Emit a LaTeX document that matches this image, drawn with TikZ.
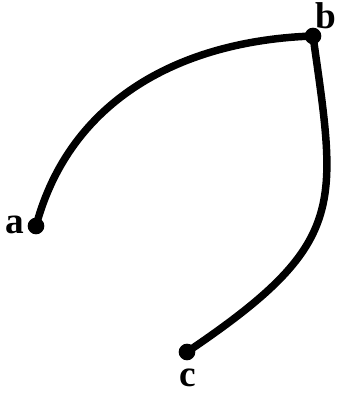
\documentclass[tikz,border=0pt]{standalone}
\usepackage{fontspec}
\setmainfont{Liberation Serif}
\begin{document}
\begin{tikzpicture}[x=0.75pt,y=0.75pt,
  vertex/.style={circle,fill=black,inner sep=0pt,minimum size=12.5pt},
  lab/.style={inner sep=0pt,font=\fontsize{28}{28}\selectfont\bfseries},
  edge/.style={line width=5.6pt,line cap=round}]
\useasboundingbox (0,0) rectangle (336,393);
\node[vertex] (a) at (36,167) {};
\node[vertex] (b) at (313,357) {};
\node[vertex] (c) at (187,41) {};
\node[lab] (la) at (15,168) {a};
\node[lab] (lb) at (326,377) {b};
\node[lab] (lc) at (188,15) {c};
\draw[edge] (a.center) to[out=75,in=182] (b.center);
\draw[edge] (b.center) to[out=-82,in=34,out looseness=1.3,in looseness=1.46] (c.center);
\end{tikzpicture}
\end{document}
